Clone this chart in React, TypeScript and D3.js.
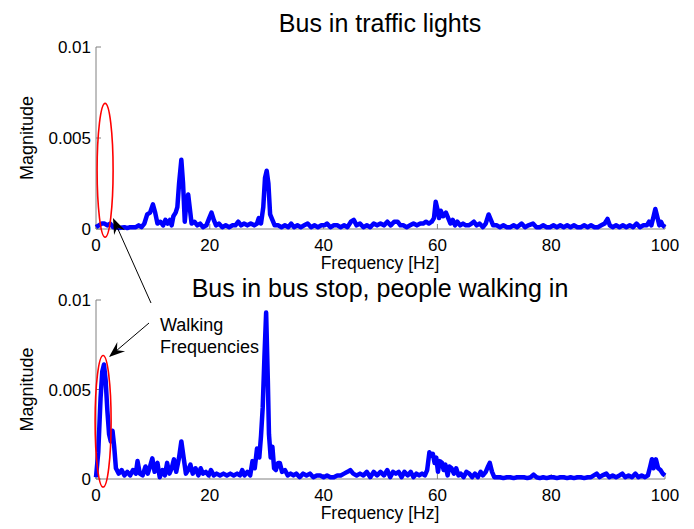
import React from "react";
import * as d3 from "d3";

// frequency [Hz], magnitude
const trafficLights: [number, number][] = [
  [0, 0.0001], [0.5, 0.0002], [1, 0.0003], [1.5, 0.0003], [2, 0.0002], [2.5, 0.0003], [3, 0.0001],
  [3.5, 0.0001], [4, 0.00005], [5, 0.0001], [5.5, 0.00005], [6, 0.0001], [7, 0.0001], [7.5, 0.0002],
  [8, 0.0001], [8.5, 0.0003], [9, 0.0008], [9.5, 0.0009], [10, 0.00135], [10.4, 0.0009], [10.8, 0.0003],
  [11.3, 0.0004], [11.8, 0.0002], [12.2, 0.0005], [12.6, 0.0003], [13, 0.0005], [13.3, 0.0002],
  [13.6, 0.0007], [14, 0.0009], [14.3, 0.0012], [14.6, 0.0025], [15, 0.0038], [15.3, 0.0025],
  [15.6, 0.0004], [15.9, 0.0015], [16.2, 0.0019], [16.5, 0.0011], [16.8, 0.0003], [17.3, 0.0004],
  [17.8, 0.0002], [18.3, 0.0003], [18.8, 0.0001], [19.4, 0.0002], [19.9, 0.0006], [20.3, 0.0009],
  [20.7, 0.0005], [21.1, 0.0002], [21.6, 0.0003], [22.2, 0.0001], [22.8, 0.0002], [23.4, 0.0001],
  [24, 0.0002], [24.5, 0.0002], [25, 0.0004], [25.5, 0.0002], [26, 0.0003], [26.6, 0.0002],
  [27.2, 0.0003], [27.8, 0.0002], [28.3, 0.0003], [28.6, 0.0006], [29, 0.0003], [29.4, 0.0012],
  [29.7, 0.0028], [30, 0.0032], [30.3, 0.0025], [30.6, 0.0008], [31, 0.0005], [31.4, 0.0002],
  [32, 0.0002], [32.6, 0.0001], [33.2, 0.0002], [33.8, 0.0001], [34.3, 0.0003], [34.8, 0.0001],
  [35.4, 0.0002], [36, 0.0001], [36.6, 0.0002], [37.2, 0.0003], [37.8, 0.0001], [38.4, 0.0002],
  [39, 0.0001], [39.6, 0.0002], [40.2, 0.0002], [40.6, 0.0003], [41.2, 0.0001], [41.8, 0.0002],
  [42.4, 0.0002], [43, 0.0001], [43.6, 0.0002], [44.2, 0.0001], [44.8, 0.0004], [45.3, 0.0005],
  [45.8, 0.0002], [46.4, 0.0003], [47, 0.0001], [47.6, 0.0002], [48.2, 0.0001], [48.8, 0.0003],
  [49.4, 0.0002], [50, 0.0003], [50.6, 0.0002], [51.2, 0.0004], [51.8, 0.0002], [52.4, 0.0004],
  [53, 0.0004], [53.5, 0.0002], [54, 0.0002], [54.6, 0.0001], [55.2, 0.0002], [55.8, 0.0003],
  [56.4, 0.0002], [57, 0.0003], [57.5, 0.0003], [58, 0.0004], [58.5, 0.0003], [59, 0.0004],
  [59.4, 0.0006], [59.7, 0.0015], [60, 0.0011], [60.3, 0.0006], [60.6, 0.001], [61, 0.0007],
  [61.5, 0.0009], [61.9, 0.0006], [62.3, 0.0003], [62.7, 0.0005], [63.1, 0.0002], [63.5, 0.0004],
  [64, 0.0002], [64.5, 0.0003], [65, 0.0002], [65.5, 0.0002], [66, 0.0003], [66.4, 0.0004],
  [66.9, 0.0002], [67.4, 0.0003], [68, 0.0001], [68.5, 0.0003], [69, 0.0008], [69.4, 0.0005],
  [69.8, 0.0002], [70.4, 0.0002], [71, 0.0001], [71.6, 0.0002], [72.2, 0.0001], [72.8, 0.0001],
  [73.4, 0.0002], [74, 0.0001], [74.8, 0.0003], [75.4, 0.0001], [76, 0.0002], [76.8, 0.0003],
  [77.4, 0.0001], [78, 0.0001], [78.6, 0.0002], [79.2, 0.0001], [79.8, 0.0001], [80.4, 0.0002],
  [81, 0.0001], [81.6, 0.0002], [82.2, 0.0001], [82.8, 0.0002], [83.4, 0.0001], [84, 0.0002],
  [84.6, 0.0001], [85.2, 0.0001], [85.8, 0.0002], [86.4, 0.0001], [87, 0.0002], [87.6, 0.0001],
  [88.2, 0.0001], [88.8, 0.0002], [89.4, 0.0003], [89.9, 0.00055], [90.3, 0.0002], [90.8, 0.0001],
  [91.4, 0.0002], [92, 0.0001], [92.6, 0.0002], [93.2, 0.0001], [93.8, 0.0002], [94.4, 0.0001],
  [95, 0.0003], [95.6, 0.0001], [96.2, 0.0002], [96.8, 0.0002], [97.2, 0.0004], [97.6, 0.0002],
  [98, 0.0007], [98.3, 0.0011], [98.7, 0.0006], [99, 0.0002], [99.3, 0.0004], [99.6, 0.0002],
  [100, 0.0001],
];

const busStop: [number, number][] = [
  [0, 0.0001], [0.4, 0.0015], [0.8, 0.0045], [1.1, 0.006], [1.4, 0.0064], [1.7, 0.0055], [2, 0.0038],
  [2.3, 0.0025], [2.6, 0.0021], [2.9, 0.0027], [3.2, 0.0018], [3.5, 0.0006], [4, 0.0003], [4.5, 0.0005],
  [5, 0.0002], [5.5, 0.0004], [6, 0.0002], [6.5, 0.0005], [7, 0.0003], [7.3, 0.001], [7.7, 0.0003],
  [8.2, 0.0002], [8.7, 0.0007], [9.1, 0.0003], [9.5, 0.0007], [9.9, 0.00115], [10.3, 0.0004],
  [10.8, 0.0009], [11.2, 0.0001], [11.7, 0.0005], [12.1, 0.0002], [12.5, 0.0009], [12.9, 0.0003],
  [13.3, 0.0006], [13.7, 0.0011], [14.1, 0.0004], [14.6, 0.0012], [15, 0.0021], [15.4, 0.0012],
  [15.8, 0.0003], [16.2, 0.0005], [16.6, 0.0008], [17, 0.0003], [17.5, 0.0006], [18, 0.0002],
  [18.4, 0.0006], [18.8, 0.0003], [19.3, 0.0004], [19.8, 0.0002], [20.2, 0.0005], [20.7, 0.0002],
  [21.2, 0.0003], [21.8, 0.0002], [22.4, 0.0003], [23, 0.0002], [23.6, 0.0003], [24.2, 0.0002],
  [24.8, 0.0003], [25.3, 0.0002], [25.7, 0.0005], [26.1, 0.0002], [26.6, 0.0004], [27.1, 0.0002],
  [27.5, 0.001], [27.9, 0.0006], [28.3, 0.0017], [28.7, 0.0012], [29, 0.0024], [29.3, 0.004],
  [29.6, 0.0068], [29.9, 0.0093], [30.2, 0.0055], [30.4, 0.0025], [30.7, 0.0012], [31, 0.0018],
  [31.3, 0.0006], [31.6, 0.0005], [32, 0.0009], [32.3, 0.0009], [32.7, 0.0004], [33.2, 0.0005],
  [33.7, 0.0002], [34.2, 0.0003], [34.7, 0.0002], [35.2, 0.0003], [35.8, 0.0001], [36.4, 0.0003],
  [37, 0.0002], [37.6, 0.0003], [38.2, 0.0001], [38.8, 0.0002], [39.4, 0.0002], [40, 0.0001],
  [40.6, 0.0002], [41.2, 0.0001], [41.8, 0.0001], [42.4, 0.0002], [43, 0.0002], [43.6, 0.0003],
  [44.2, 0.0004], [44.7, 0.0005], [45.2, 0.0003], [45.8, 0.0002], [46.4, 0.0003], [47, 0.0002],
  [47.6, 0.0004], [48.2, 0.0001], [48.8, 0.0004], [49.4, 0.0002], [50, 0.0004], [50.6, 0.0002],
  [51.2, 0.0005], [51.7, 0.0001], [52.2, 0.0004], [52.7, 0.0003], [53.2, 0.0004], [53.7, 0.0001],
  [54.2, 0.0004], [54.8, 0.0002], [55.3, 0.0004], [55.8, 0.0001], [56.3, 0.0003], [56.8, 0.0002],
  [57.3, 0.0003], [57.8, 0.0002], [58.2, 0.0005], [58.6, 0.0015], [58.9, 0.0013], [59.2, 0.0014],
  [59.5, 0.0009], [59.8, 0.0012], [60.1, 0.0004], [60.4, 0.001], [60.8, 0.0009], [61.1, 0.0005],
  [61.4, 0.0008], [61.8, 0.0002], [62.1, 0.0007], [62.5, 0.0006], [62.9, 0.0003], [63.3, 0.0006],
  [63.7, 0.0002], [64.1, 0.0003], [64.6, 0.0001], [65.1, 0.0004], [65.6, 0.0003], [66.1, 0.0001],
  [66.6, 0.0003], [67.1, 0.0001], [67.6, 0.0004], [68, 0.0002], [68.5, 0.0004], [68.9, 0.0007],
  [69.2, 0.0009], [69.6, 0.0004], [70, 0.0001], [70.5, 0.0001], [71, 0.0001], [71.6, 0.00005],
  [72.2, 0.0001], [72.8, 0.0001], [73.4, 0.00005], [74, 0.0001], [74.6, 0.0001], [75.2, 0.0001],
  [75.8, 0.00005], [76.4, 0.0001], [76.9, 0.00025], [77.4, 0.0001], [78, 0.00005], [78.6, 0.0001],
  [79.2, 0.00005], [79.8, 0.0001], [80.4, 0.0001], [81, 0.00005], [81.6, 0.0001], [82.2, 0.0001],
  [82.8, 0.00005], [83.4, 0.0001], [84, 0.00005], [84.6, 0.0001], [85.2, 0.0001], [85.8, 0.00005],
  [86.4, 0.0001], [87, 0.0001], [87.5, 0.0002], [88, 0.0003], [88.5, 0.0001], [89, 0.0002],
  [89.7, 0.0003], [90.2, 0.0001], [90.8, 0.0002], [91.4, 0.0001], [92, 0.0002], [92.5, 0.0003],
  [93, 0.0001], [93.6, 0.0002], [94.2, 0.0001], [94.8, 0.0003], [95.3, 0.0001], [95.9, 0.0002],
  [96.5, 0.0001], [97, 0.0002], [97.4, 0.0007], [97.7, 0.0011], [98, 0.0006], [98.4, 0.0011],
  [98.8, 0.0006], [99.2, 0.0005], [99.6, 0.0003], [100, 0.0002],
];

const xTicks = [0, 20, 40, 60, 80, 100];
const yTicks = [0, 0.005, 0.01];
const yTickLabels = ["0", "0.005", "0.01"];

const FONT = "'Liberation Sans', Arial, Helvetica, sans-serif";
const AXIS = "#808080";

function Panel(props: any) {
  const { data, top, bottom, title, titleY, ellipseF } = props;
  const x = d3.scaleLinear().domain([0, 100]).range([96, 665]);
  const y = d3.scaleLinear().domain([0, 0.01]).range([bottom, top]);
  const line = d3
    .line<[number, number]>()
    .x((d) => x(d[0]))
    .y((d) => y(d[1]));

  // red ellipse, in data units
  const e0 = y(0.0069);
  const e1 = y(-0.00045);

  return (
    <g>
      <text x={380} y={titleY} textAnchor="middle" fontSize={25} fontFamily={FONT} fill="#000">
        {title}
      </text>
      <line x1={x(0)} x2={x(100)} y1={y(0)} y2={y(0)} stroke={AXIS} strokeWidth={1} />
      <line x1={x(0)} x2={x(0)} y1={y(0)} y2={y(0.01)} stroke={AXIS} strokeWidth={1} />
      {xTicks.map((t) => (
        <g key={"x" + t}>
          <line x1={x(t)} x2={x(t)} y1={y(0)} y2={y(0) - 5} stroke={AXIS} />
          <text x={x(t)} y={y(0) + 22} textAnchor="middle" fontSize={17} fontFamily={FONT}>
            {t}
          </text>
        </g>
      ))}
      {yTicks.map((t, i) => (
        <g key={"y" + t}>
          <line x1={x(0)} x2={x(0) + 5} y1={y(t)} y2={y(t)} stroke={AXIS} />
          <text x={x(0) - 5} y={y(t) + 6} textAnchor="end" fontSize={17} fontFamily={FONT}>
            {yTickLabels[i]}
          </text>
        </g>
      ))}
      <text x={380} y={y(0) + 40} textAnchor="middle" fontSize={17.5} fontFamily={FONT}>
        Frequency [Hz]
      </text>
      <text
        transform={`translate(33,${(top + bottom) / 2}) rotate(-90)`}
        textAnchor="middle"
        fontSize={18}
        fontFamily={FONT}
      >
        Magnitude
      </text>
      <path d={line(data) || ""} fill="none" stroke="#0000ff" strokeWidth={4.5} strokeLinejoin="round" />
      <ellipse
        cx={x(ellipseF)}
        cy={(e0 + e1) / 2}
        rx={8}
        ry={(e1 - e0) / 2}
        fill="none"
        stroke="#ff0000"
        strokeWidth={1.6}
      />
    </g>
  );
}

function Arrow(props: any) {
  const { x1, y1, x2, y2 } = props;
  const a = Math.atan2(y2 - y1, x2 - x1);
  const len = 16;
  const half = 6;
  const bx = x2 - len * Math.cos(a);
  const by = y2 - len * Math.sin(a);
  const nx = x2 - len * 0.65 * Math.cos(a);
  const ny = y2 - len * 0.65 * Math.sin(a);
  const px = -Math.sin(a) * half;
  const py = Math.cos(a) * half;
  const head = `M${x2},${y2} L${bx + px},${by + py} L${nx},${ny} L${bx - px},${by - py} Z`;
  return (
    <g>
      <line x1={x1} y1={y1} x2={nx} y2={ny} stroke="#000" strokeWidth={1} />
      <path d={head} fill="#000" />
    </g>
  );
}

export default function App() {
  return (
    <svg
      width={694}
      height={529}
      style={{ position: "absolute", left: 0, top: 0, background: "#fff" }}
    >
      <Panel data={trafficLights} top={47} bottom={229} title="Bus in traffic lights" titleY={32} ellipseF={1.6} />
      <Panel
        data={busStop}
        top={300}
        bottom={479}
        title="Bus in bus stop, people walking in"
        titleY={297}
        ellipseF={1.25}
      />
      <Arrow x1={151} y1={303} x2={113} y2={218} />
      <Arrow x1={149} y1={323} x2={109} y2={357} />
      <text x={160} y={331} fontSize={18} fontFamily={FONT}>
        Walking
      </text>
      <text x={160} y={353} fontSize={18} fontFamily={FONT}>
        Frequencies
      </text>
    </svg>
  );
}
